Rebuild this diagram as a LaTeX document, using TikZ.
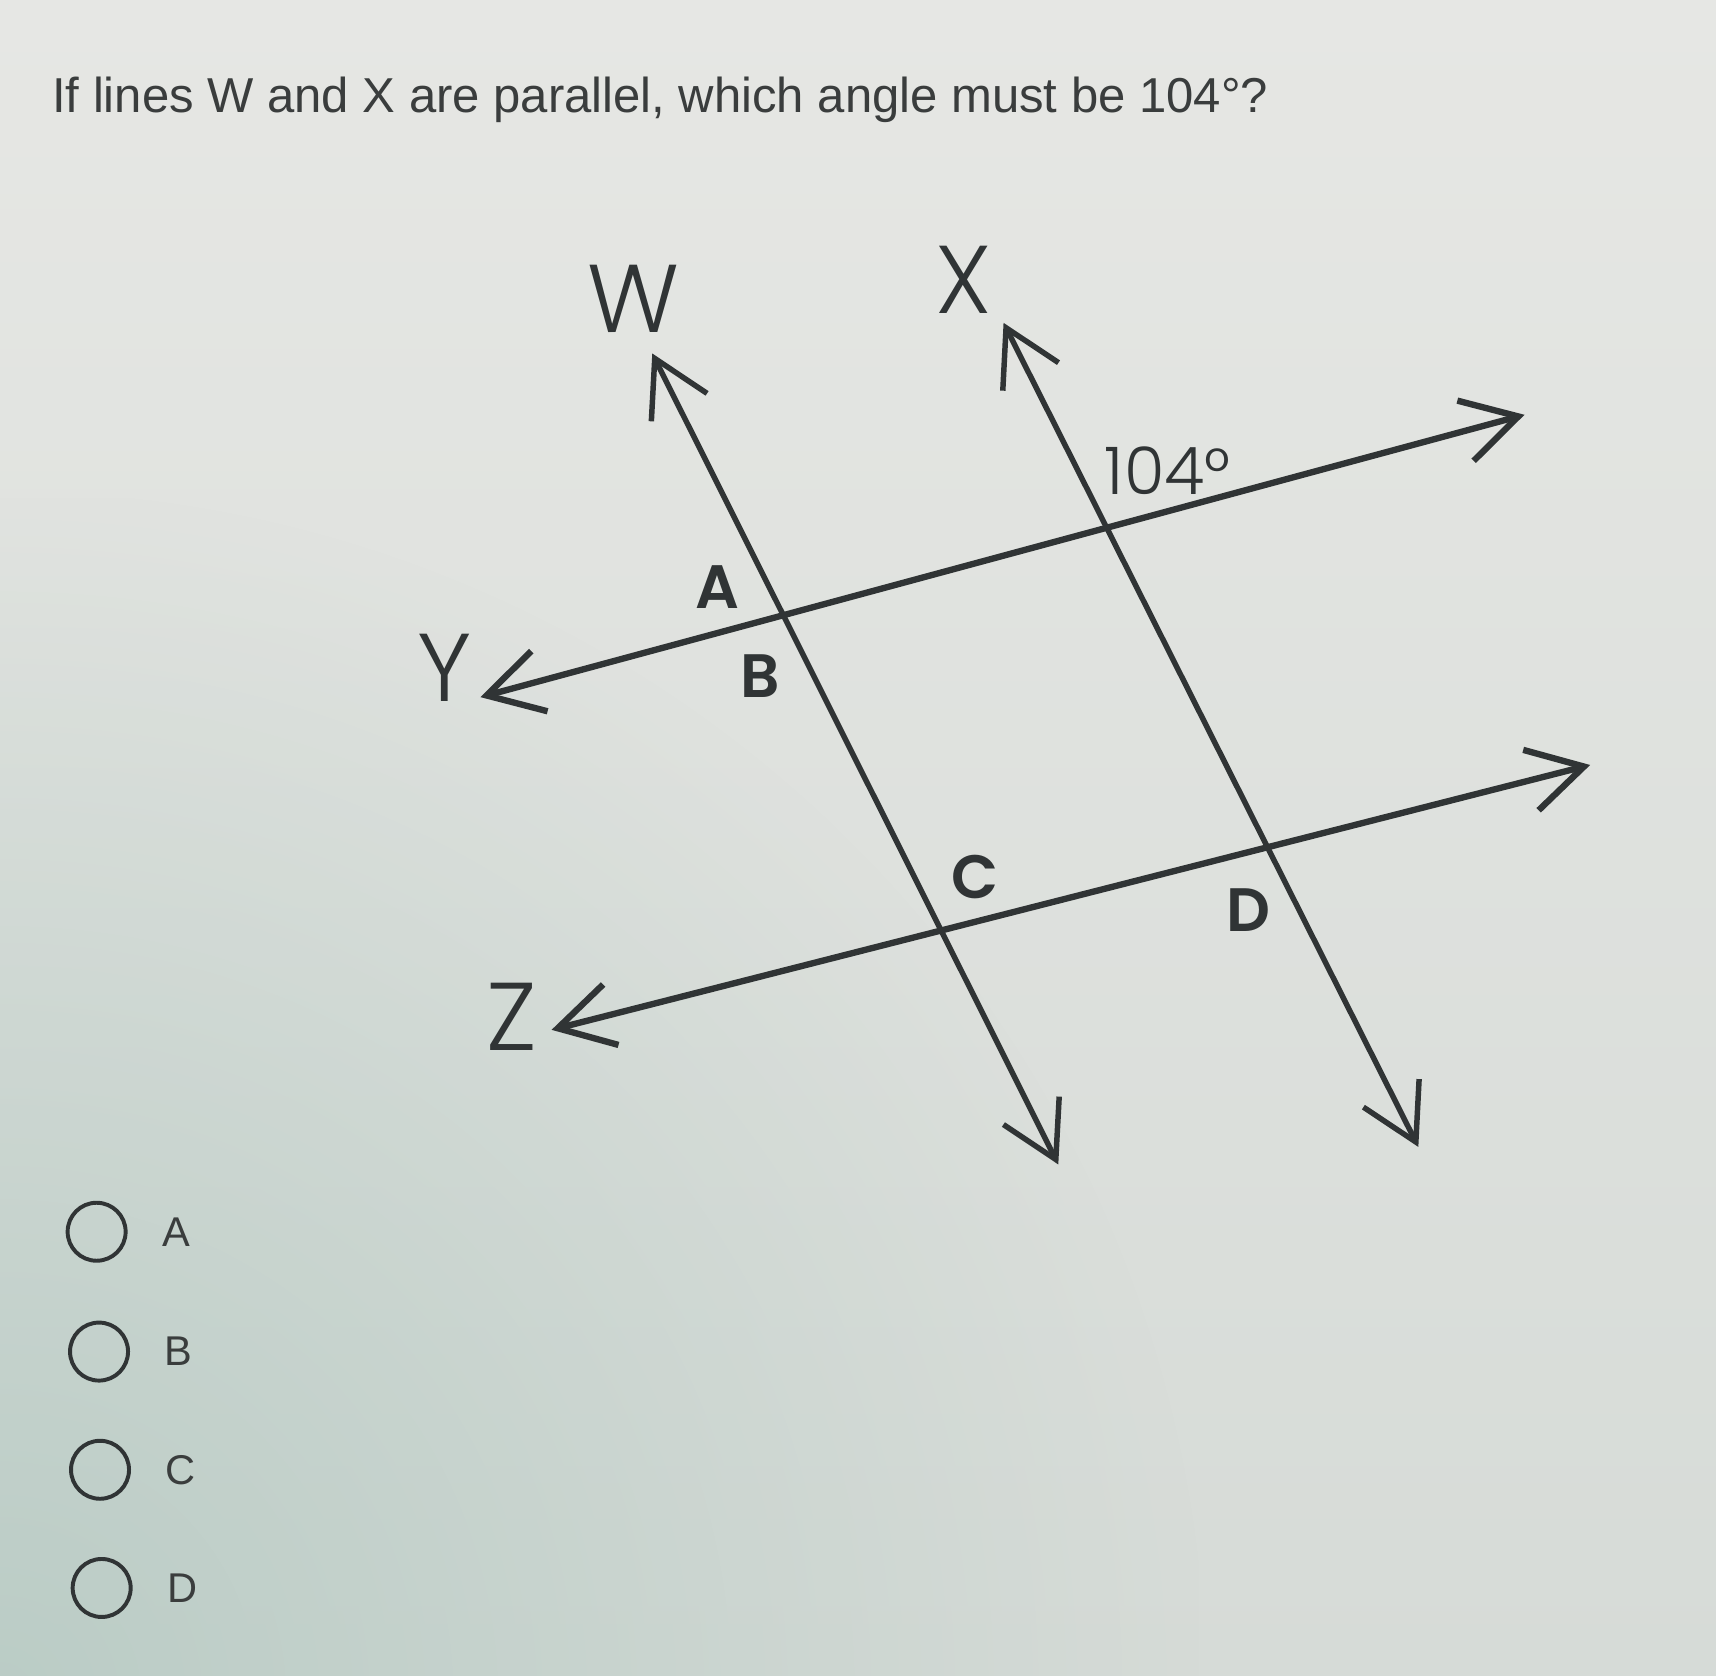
\documentclass[tikz,border=0pt]{standalone}
\usepackage{fontspec}
\setmainfont{Liberation Sans}
\IfFontExistsTF{Poppins Light}
  {\newfontfamily\labfont{Poppins Light}}
  {\newfontfamily\labfont{Poppins}}
\IfFontExistsTF{Poppins SemiBold}
  {\newfontfamily\ptfont{Poppins SemiBold}\newcommand\ptweight{}}
  {\newfontfamily\ptfont{Poppins}\newcommand\ptweight{\bfseries}}
\usetikzlibrary{arrows.meta,fadings}
\definecolor{bgtop}{RGB}{230,231,228}
\definecolor{bgbot}{RGB}{214,219,215}
\definecolor{bggreen}{RGB}{182,202,195}
\definecolor{ink}{RGB}{48,52,53}
\definecolor{txt}{RGB}{58,61,61}
\tikzfading[name=cornerfade, inner color=transparent!15, outer color=transparent!100]
\tikzset{
  geoline/.style={draw=ink, line width=5pt, {Straight Barb[length=50pt,width=57pt]}-{Straight Barb[length=50pt,width=57pt]}},
  transline/.style={geoline, line width=5.8pt},
  biglab/.style={text=ink, font=\labfont\fontsize{88}{90}\selectfont, inner sep=0pt},
  anglab/.style={text=ink, font=\labfont\fontsize{60}{64}\selectfont, inner sep=0pt},
  ptlab/.style={text=ink, font=\ptfont\ptweight\fontsize{56}{60}\selectfont, inner sep=0pt},
  radio/.style={draw=ink, line width=3.6pt, circle, minimum size=53pt, inner sep=0pt},
  opttext/.style={text=txt, font=\fontsize{38}{40}\selectfont, inner sep=0pt, anchor=center}
}
\begin{document}
\begin{tikzpicture}[x=1pt,y=-1pt]
\useasboundingbox (0,0) rectangle (1568,1531);
% background
\shade[top color=bgtop, bottom color=bgbot] (0,0) rectangle (1568,1531);
\begin{scope}
  \clip (0,0) rectangle (1568,1531);
  \fill[bggreen, path fading=cornerfade, fit fading=true] (-1100,450) rectangle (1100,2650);
\end{scope}
% title
\node[anchor=base west, text=txt, font=\fontsize{44.8}{50}\selectfont, inner sep=0pt] (title) at (47.5,103)
  {If lines W and X are parallel, which angle must be 104°?};
% line endpoints
\coordinate (wt) at (596,323);
\coordinate (wb) at (967,1064);
\coordinate (xt) at (917,295);
\coordinate (xb) at (1296,1048);
\coordinate (yl) at (439,637);
\coordinate (yr) at (1393,379);
\coordinate (zl) at (504,941);
\coordinate (zr) at (1453,699);
\draw[geoline] (wt) -- (wb);
\draw[geoline] (xt) -- (xb);
\draw[transline] (yl) -- (yr);
\draw[transline] (zl) -- (zr);
% line labels
\node[biglab] (lw) at (579,273) {W};
\node[biglab] (lx) at (881,256) {X};
\node[biglab] (ly) at (406,610) {Y};
\node[biglab] (lz) at (468,929) {Z};
\node[anglab] (ang) at (1067,430) {104°};
\node[ptlab] (pa) at (656,536) {A};
\node[ptlab] (pb) at (695,618) {B};
\node[ptlab] (pc) at (891,801) {C};
\node[ptlab] (pd) at (1141,832) {D};
% options
\node[radio] (oa) at (88.3,1125.5) {};
\node[radio] (ob) at (90.5,1235) {};
\node[radio] (oc) at (91.4,1343) {};
\node[radio] (od) at (92.9,1451) {};
\node[opttext] (ta) at (161.5,1125.5) {A};
\node[opttext] (tb) at (162.7,1235) {B};
\node[opttext] (tc) at (165,1343) {C};
\node[opttext] (td) at (166.8,1451) {D};
\end{tikzpicture}
\end{document}
